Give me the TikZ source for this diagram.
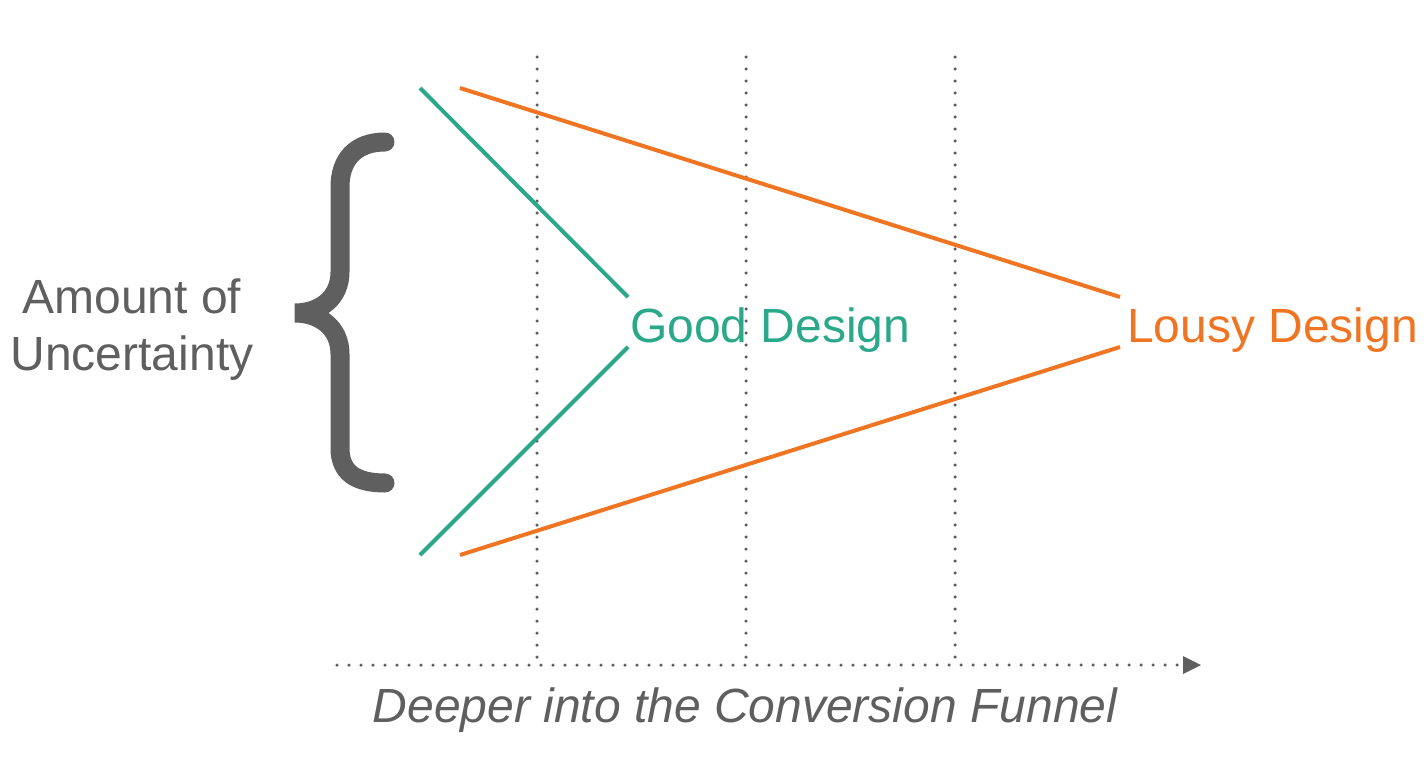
\documentclass[tikz,border=0pt]{standalone}
\usepackage{fontspec}
\setmainfont{Liberation Sans}
\usetikzlibrary{arrows.meta}
\definecolor{gr}{HTML}{5F5F5F}
\definecolor{good}{HTML}{2AA889}
\definecolor{lousy}{HTML}{F07522}
\begin{document}
\begin{tikzpicture}[x=1pt,y=-1pt,
  lbl/.style={inner sep=0pt,font=\fontsize{48}{57}\selectfont},
  dotline/.style={gr,line width=3.5pt,line cap=round,dash pattern=on 0pt off 12pt},
  goodline/.style={good,line width=4pt},
  lousyline/.style={lousy,line width=4pt},
  bracestyle/.style={gr,line width=19pt,line cap=round}]
\useasboundingbox (0,0) rectangle (1428,774);
% dotted verticals
\foreach \x/\n in {537/a,746/b,955/c}{
  \coordinate (v\n t) at (\x,57);
  \coordinate (v\n b) at (\x,665);
  \draw[dotline] (v\n t) -- (v\n b);
}
% axis
\coordinate (axs) at (337,665);
\coordinate (axe) at (1183,665);
\draw[dotline] (axs) -- (axe);
\fill[gr] (axe) ++(0,-9) -- ++(18,9) -- ++(-18,9) -- cycle;
% lines
\coordinate (g1) at (420,88);
\coordinate (g2) at (628,297);
\coordinate (g3) at (420,555);
\coordinate (g4) at (628,347);
\coordinate (l1) at (460,88);
\coordinate (l2) at (1120,297);
\coordinate (l3) at (460,555);
\coordinate (l4) at (1120,347);
\draw[goodline] (g1) -- (g2);
\draw[goodline] (g3) -- (g4);
\draw[lousyline] (l1) -- (l2);
\draw[lousyline] (l3) -- (l4);
% labels
\node[lbl,good,anchor=base west] (gd) at (630,342) {Good Design};
\node[lbl,lousy,anchor=base west] (ld) at (1127,342) {Lousy Design};
\node[lbl,gr,anchor=base] (am) at (132,313) {Amount of};
\node[lbl,gr,anchor=base] (un) at (132,370) {Uncertainty};
\node[lbl,gr,anchor=base] (dp) at (745,722) {\itshape Deeper into the Conversion Funnel};
% brace
\draw[bracestyle] (385,142) .. controls (355,142) and (340,160) .. (340,187) -- (340,272)
  .. controls (340,298) and (320,313) .. (295,313)
  .. controls (320,313) and (340,328) .. (340,354) -- (340,448)
  .. controls (340,472) and (355,483) .. (385,483);
\end{tikzpicture}
\end{document}
